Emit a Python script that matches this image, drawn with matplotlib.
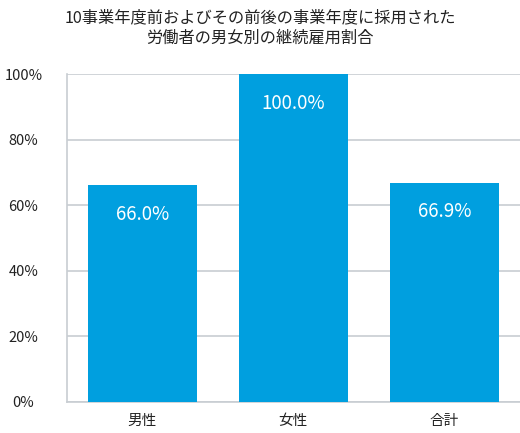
import matplotlib
matplotlib.use("Agg")
import matplotlib.pyplot as plt
from matplotlib.ticker import FuncFormatter

plt.rcParams['font.family'] = ['Noto Sans CJK JP', 'DejaVu Sans']

categories = ['男性', '女性', '合計']
values = [66.0, 100.0, 66.9]
yticks = [0, 20, 40, 60, 80, 100]
title = '10事業年度前およびその前後の事業年度に採用された\n労働者の男女別の継続雇用割合'

bar_color = '#009FDF'
grid_color = '#C8CDD2'

fig = plt.figure(figsize=(5.2, 4.33), dpi=100)
ax = fig.add_axes([0.128, 0.072, 0.872, 0.757])

x = range(len(categories))
bars = ax.bar(x, values, width=0.72, color=bar_color, zorder=3)

for rect, v in zip(bars, values):
    ax.annotate(f'{v:.1f}%',
                xy=(rect.get_x() + rect.get_width() / 2, rect.get_height()),
                xytext=(0, -21), textcoords='offset points',
                ha='center', va='center', color='white', fontsize=13.5, zorder=4)

ax.set_xlim(-0.5, 2.5)
ax.set_ylim(0, 100)
ax.set_yticks(yticks)
ax.yaxis.set_major_formatter(FuncFormatter(lambda v, p: f'{int(v)}%'))
ax.set_xticks(list(x))
ax.set_xticklabels(categories)

ax.yaxis.grid(True, color=grid_color, linewidth=1.2, zorder=0)
for s in ['top', 'right']:
    ax.spines[s].set_visible(False)
for s in ['left', 'bottom']:
    ax.spines[s].set_color(grid_color)
    ax.spines[s].set_linewidth(1.2)

ax.tick_params(axis='both', length=0, labelsize=10.5, colors='#222222')
ax.tick_params(axis='y', pad=31)
ax.tick_params(axis='x', pad=9)
for lbl in ax.get_yticklabels():
    lbl.set_horizontalalignment('center')

fig.text(0.5, 0.935, title, ha='center', va='center', fontsize=11.7,
         color='#222222', linespacing=1.3)

fig.savefig('out.png', dpi=100)
